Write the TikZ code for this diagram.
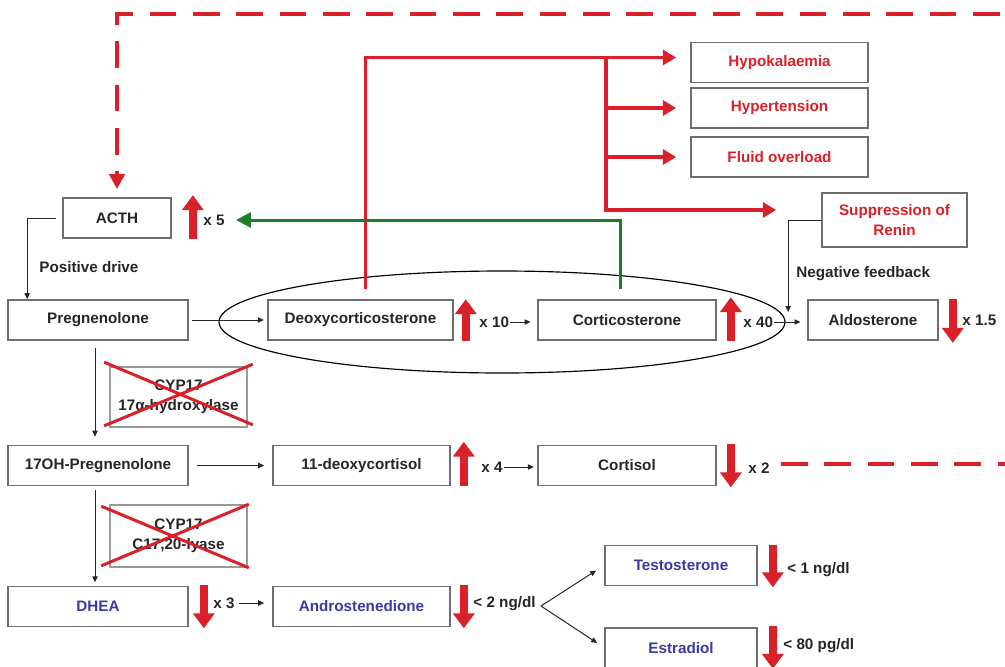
\documentclass[tikz,border=0pt]{standalone}
\usepackage{fontspec}
\setmainfont{Liberation Sans}
\usetikzlibrary{arrows.meta,calc}
\definecolor{hred}{RGB}{218,32,40}
\definecolor{hblue}{RGB}{58,58,165}
\definecolor{hgreen}{RGB}{30,125,45}
\definecolor{boxgray}{RGB}{110,110,110}
\begin{document}
\begin{tikzpicture}[x=0.03cm,y=-0.03cm,
  font=\fontsize{13}{17}\selectfont\bfseries, text=black!85,
  box/.style={draw=boxgray,line width=0.5mm,fill=white,minimum height=1.2cm,inner sep=1pt,align=center},
  wd/.style={minimum width=#1*0.3mm},
  lbl/.style={anchor=west,inner sep=1pt},
  thinarr/.style={draw=black!85,line width=0.3mm,-{Triangle[length=1.8mm,width=1.6mm]}},
  bigarr/.style={draw=hred,line width=2.4mm,-{Triangle[width=6.3mm,length=4.5mm]}},
  redarr/.style={draw=hred,line width=1mm,-{Triangle[width=4.5mm,length=4mm]}},
  greenarr/.style={draw=hgreen,line width=0.9mm,-{Triangle[width=4.5mm,length=4.5mm]}},
  fbline/.style={draw=hred,line width=1.2mm,dash pattern=on 8mm off 5mm,-{Triangle[width=4.5mm,length=4.5mm]}},
  cross/.style={draw=hred,line width=0.9mm}]
\useasboundingbox (0,0) rectangle (1005,666);
% region around the two mineralocorticoids
\draw[line width=0.35mm] (502,322) ellipse [x radius=283, y radius=51];
% boxes
\node[box,wd=108] (acth) at (117,218) {ACTH};
\node[box,wd=180] (preg) at (98,320) {Pregnenolone};
\node[box,wd=185] (doc) at (360.5,320) {Deoxycorticosterone};
\node[box,wd=178] (cort) at (627,320) {Corticosterone};
\node[box,wd=130] (aldo) at (873,320) {Aldosterone};
\node[box,wd=177,text=hred] (hypok) at (779.5,62.5) {Hypokalaemia};
\node[box,wd=177,text=hred] (hypert) at (779.5,108) {Hypertension};
\node[box,wd=177,text=hred] (fluid) at (779.5,157) {Fluid overload};
\node[box,wd=145,minimum height=1.62cm,text=hred] (renin) at (894.5,220) {Suppression of\\Renin};
\node[box,wd=180] (ohp) at (98,465.5) {17OH-Pregnenolone};
\node[box,wd=137,minimum height=1.8cm,draw=boxgray!70] (cypa) at (178.5,397) {CYP17\\17α-hydroxylase};
\node[box,wd=137,minimum height=1.86cm,draw=boxgray!70] (cypb) at (178.5,536) {CYP17\\C17,20-lyase};
\node[box,wd=177] (deoxf) at (361.5,465.5) {11-deoxycortisol};
\node[box,wd=178] (cortisol) at (627,465.5) {Cortisol};
\node[box,wd=180,text=hblue] (dhea) at (98,606.5) {DHEA};
\node[box,wd=177,text=hblue] (andro) at (361.5,606.5) {Androstenedione};
\node[box,wd=152,text=hblue] (testo) at (681,565.5) {Testosterone};
\node[box,wd=152,text=hblue] (estra) at (681,648) {Estradiol};
% blocked enzymes
\draw[cross] ($(cypa.north west)+(-5,-4)$) -- ($(cypa.south east)+(5,-3)$);
\draw[cross] ($(cypa.south west)+(-5,-2)$) -- ($(cypa.north east)+(5,-2)$);
\draw[cross] ($(cypb.north west)+(-8,2)$) -- ($(cypb.south east)+(1,0)$);
\draw[cross] ($(cypb.south west)+(-8,-2)$) -- ($(cypb.north east)+(1,0)$);
% rise and fall
\draw[bigarr] ($(acth.south east)+(21,0)$) -- ($(acth.north east)+(21,-2)$);
\draw[bigarr] ($(doc.south east)+(12,0)$) -- ($(doc.north east)+(12,0)$);
\draw[bigarr] ($(cort.south east)+(14,0)$) -- ($(cort.north east)+(14,-2)$);
\draw[bigarr] ($(aldo.north east)+(14,0)$) -- ($(aldo.south east)+(14,2)$);
\draw[bigarr] ($(deoxf.south east)+(13,0)$) -- ($(deoxf.north east)+(13,-3)$);
\draw[bigarr] ($(cortisol.north east)+(14,-1)$) -- ($(cortisol.south east)+(14,1)$);
\draw[bigarr] ($(dhea.north east)+(15,-1)$) -- ($(dhea.south east)+(15,1)$);
\draw[bigarr] ($(andro.north east)+(13,-1)$) -- ($(andro.south east)+(13,1)$);
\draw[bigarr] ($(testo.north east)+(15,0)$) -- ($(testo.south east)+(15,1)$);
\draw[bigarr] ($(estra.north east)+(15,-1)$) -- ($(estra.south east)+(15,0)$);
\node[lbl] (f5) at (202,220) {x 5};
\node[lbl] (f10) at (478,322) {x 10};
\node[lbl] (f40) at (742,322) {x 40};
\node[lbl] (f15) at (961,320) {x 1.5};
\node[lbl] (f4) at (480,467) {x 4};
\node[lbl] (fx2) at (747,468) {x 2};
\node[lbl] (f3) at (212,603) {x 3};
\node[lbl] (fng2) at (472,604) {< 2 ng/dl};
\node[lbl] (fng1) at (786,570) {< 1 ng/dl};
\node[lbl] (fpg) at (782,646) {< 80 pg/dl};
\node[lbl] (posdrive) at (38,267) {Positive drive};
\node[lbl] (negfb) at (795,274) {Negative feedback};
% pathway
\draw[thinarr,shorten <=1mm,shorten >=1mm] (preg.east) -- (doc.west);
\draw[thinarr,shorten >=2mm] (f10.east) -- (f10.east -| cort.west);
\draw[thinarr,shorten >=2mm] (f40.east) -- (f40.east -| aldo.west);
\draw[thinarr,shorten <=2.4mm,shorten >=2.4mm] (ohp.east) -- (deoxf.west);
\draw[thinarr,shorten >=1mm] (f4.east) -- (f4.east -| cortisol.west);
\draw[thinarr,shorten <=1mm,shorten >=2.4mm] (f3.east) -- (f3.east -| andro.west);
\draw[thinarr] ($(fng2.east)+(4,2)$) -- ($(testo.west)+(-8,5)$);
\draw[thinarr] ($(fng2.east)+(4,2)$) -- ($(estra.west)+(-7,-5)$);
\draw[thinarr,shorten <=2mm,shorten >=2.4mm] ($(preg.south)+(-3,0)$) -- ($(ohp.north)+(-3,0)$);
\draw[thinarr,shorten <=1mm,shorten >=1mm] ($(ohp.south)+(-3,0)$) -- ($(dhea.north)+(-3,0)$);
\draw[thinarr,shorten <=1.8mm] (acth.west) -| ($(preg.north west)+(20,0)$);
\draw[thinarr] (renin.west) -| ($(aldo.west)+(-19,-8)$);
% mineralocorticoid effects
\coordinate (split) at (606,57);
\draw[redarr] ($(doc.north)+(5,-10)$) |- ($(hypok.west)+(-14,-5)$);
\draw[redarr] (split |- hypert.west) -- ($(hypert.west)+(-14,0)$);
\draw[redarr] (split |- fluid.west) -- ($(fluid.west)+(-14,0)$);
\draw[redarr] (split) |- ($(renin.west)+(-45,-10)$);
\draw[greenarr] ($(cort.north)+(-7,-10)$) |- ($(f5.east)+(10,0)$);
% cortisol feedback
\coordinate (fbcorner) at (1012,14);
\draw[fbline,shorten >=2.4mm] ($(fx2.east)+(10,-4)$) -| (fbcorner) -| (acth.north);
\end{tikzpicture}
\end{document}
